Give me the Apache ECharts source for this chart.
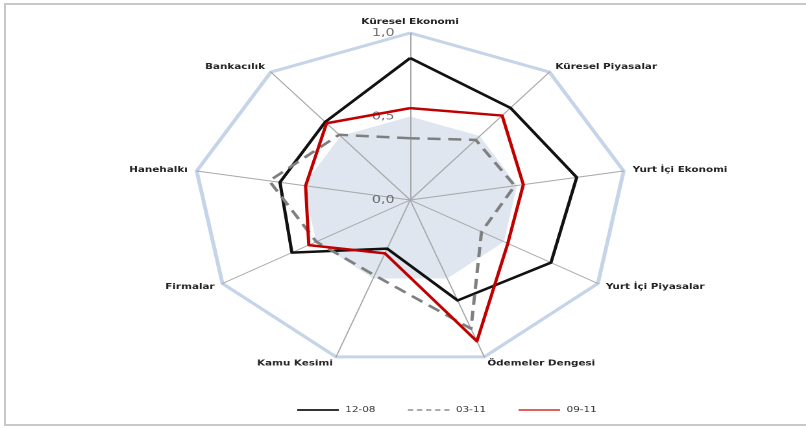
<!DOCTYPE html>
<html>
<head>
<meta charset="utf-8">
<script src="https://cdn.jsdelivr.net/npm/echarts@6/dist/echarts.min.js"></script>
<style>
  html, body { margin: 0; padding: 0; background: #fff; overflow: hidden; }
  #frame {
    position: absolute; left: 4px; top: 3px; width: 820px; height: 419px;
    border-left: 2px solid #c8c8c8; border-top: 2px solid #c8c8c8; border-bottom: 2px solid #c8c8c8;
  }
  #chart {
    position: absolute; left: 0; top: 0; width: 621px; height: 428px;
    transform: scaleX(1.298); transform-origin: 0 0;
  }
</style>
</head>
<body>
<div id="frame"></div>
<div id="chart"></div>
<script>
// indicators in the order ECharts lays them out (top, then counter-clockwise)
const categories = ['Küresel Ekonomi', 'Bankacılık', 'Hanehalkı', 'Firmalar', 'Kamu Kesimi',
                    'Ödemeler Dengesi', 'Yurt İçi Piyasalar', 'Yurt İçi Ekonomi', 'Küresel Piyasalar'];
const s1208 = [0.85, 0.61, 0.61, 0.63, 0.31, 0.64, 0.75, 0.78, 0.72];
const s0311 = [0.37, 0.51, 0.66, 0.50, 0.48, 0.82, 0.38, 0.49, 0.47];
const s0911 = [0.55, 0.60, 0.49, 0.54, 0.34, 0.90, 0.52, 0.53, 0.66];
const shade = [0.5, 0.5, 0.5, 0.5, 0.5, 0.5, 0.5, 0.5, 0.5];
const axisMin = 0, axisMax = 1;

const chart = echarts.init(document.getElementById('chart'), null, { devicePixelRatio: 2 });

const indicator = categories.map((name, i) => {
    const ind = { name: name, min: axisMin, max: axisMax };
    if (i === 0) ind.axisLabel = { show: true };
    return ind;
});

const fmt = v => Number(v).toFixed(1).replace('.', ',');

const option = {
    animation: false,
    radar: {
        z: 1,
        center: [316, 200],
        radius: 167,
        startAngle: 90,
        splitNumber: 2,
        shape: 'polygon',
        indicator: indicator,
        axisName: {
            color: '#222',
            fontSize: 8,
            fontWeight: 'bold',
            fontFamily: 'DejaVu Sans'
        },
        nameGap: 7,
        axisLine: { lineStyle: { color: '#a8a8a8', width: 1 } },
        splitLine: { lineStyle: { color: ['rgba(0,0,0,0)', 'rgba(0,0,0,0)', '#c5d4e8'], width: 3 } },
        splitArea: { show: false },
        axisTick: { show: false },
        axisLabel: {
            show: false,
            color: '#6a6a6a',
            fontSize: 11,
            fontFamily: 'DejaVu Sans',
            margin: 12,
            formatter: fmt
        }
    },
    legend: {
        left: 229,
        top: 406,
        padding: 0,
        itemWidth: 32,
        itemHeight: 2,
        itemGap: 25,
        textStyle: { fontSize: 8, color: '#333', fontFamily: 'DejaVu Sans' },
        data: [
            { name: '12-08', icon: 'path://M0,0H32V2H0Z', itemStyle: { color: '#333' } },
            { name: '03-11', icon: 'path://M0,0H4V2H0Z M7,0H11V2H7Z M14,0H18V2H14Z M21,0H25V2H21Z M28,0H32V2H28Z', itemStyle: { color: '#aaa' } },
            { name: '09-11', icon: 'path://M0,0H32V2H0Z', itemStyle: { color: '#e06060' } }
        ]
    },
    series: [
        {
            type: 'radar',
            z: 0,
            silent: true,
            symbol: 'none',
            data: [{
                name: 'alan',
                value: shade,
                lineStyle: { width: 0, color: 'rgba(0,0,0,0)' },
                areaStyle: { color: '#dfe6ef', opacity: 1 }
            }]
        },
        {
            type: 'radar',
            z: 3,
            symbol: 'none',
            data: [
                { name: '12-08', value: s1208, lineStyle: { color: '#111', width: 2.5 }, itemStyle: { color: '#111' } },
                { name: '03-11', value: s0311, lineStyle: { color: '#7f7f7f', width: 2.5, type: [10, 6] }, itemStyle: { color: '#7f7f7f' } },
                { name: '09-11', value: s0911, lineStyle: { color: '#c00000', width: 2.5 }, itemStyle: { color: '#c00000' } }
            ]
        }
    ]
};

chart.setOption(option);
</script>
</body>
</html>
